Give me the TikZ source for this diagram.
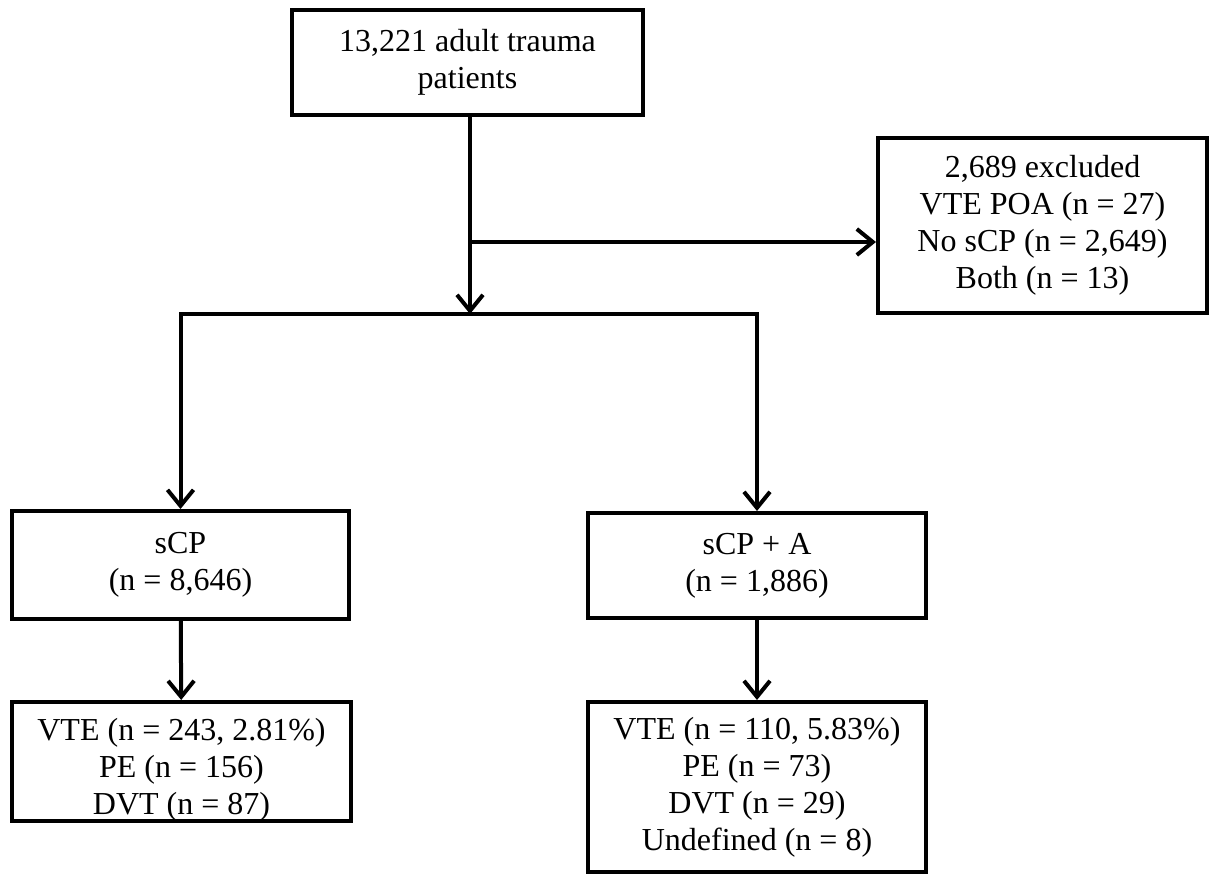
\documentclass[tikz,border=0pt]{standalone}
\usepackage{fontspec}
\setmainfont{Liberation Serif}
\usetikzlibrary{arrows.meta}

\begin{document}
\begin{tikzpicture}[x=1pt,y=-1pt]
        \tikzset{box/.style={draw=black, line width=4pt, inner sep=0pt, align=center,
                font=\fontsize{32}{37}\selectfont},
            flow/.style={draw=black, line width=4pt, line join=miter,
                -{Straight Barb[length=16pt,width=26pt,line width=4pt]}}}

        \useasboundingbox (0,0) rectangle (1210,875);

        \node[box, minimum width=351pt, minimum height=105pt] (total) at (467.5,62.5)
            {13,221 adult trauma\\patients};
        \node[box, minimum width=329pt, minimum height=175pt] (excluded) at (1042.5,225.5)
            {2,689 excluded\\VTE POA (n = 27)\\No sCP (n = 2,649)\\Both (n = 13)};

        \node[box, minimum width=337pt, minimum height=108pt] (scp) at (180.5,565)
            {sCP\\(n = 8,646)};
        \node[box, minimum width=338pt, minimum height=105pt] (scpa) at (757,565.5)
            {sCP + A\\(n = 1,886)};

        \node[box, minimum width=339pt, minimum height=117pt] (scpvte) at (181.5,761.5)
            {\raisebox{0pt}[\dimexpr\height+16pt\relax]{VTE (n = 243, 2.81\%)}\\PE (n = 156)\\DVT (n = 87)};
        \node[box, minimum width=338pt, minimum height=170pt] (scpavte) at (757,787)
            {VTE (n = 110, 5.83\%)\\PE (n = 73)\\DVT (n = 29)\\Undefined (n = 8)};

        \coordinate (branch) at (470,242);
        \coordinate (split) at (470,314);

        \draw[flow] (total.south -| split) -- (split);
        \draw[flow] (branch) -- (branch -| excluded.west);
        \draw[flow] (split) -| (scp.north);
        \draw[flow] (split) -| (scpa.north);
        \draw[flow] (scp) -- (scpvte);
        \draw[flow] (scpa) -- (scpavte);
    \end{tikzpicture}
\end{document}
